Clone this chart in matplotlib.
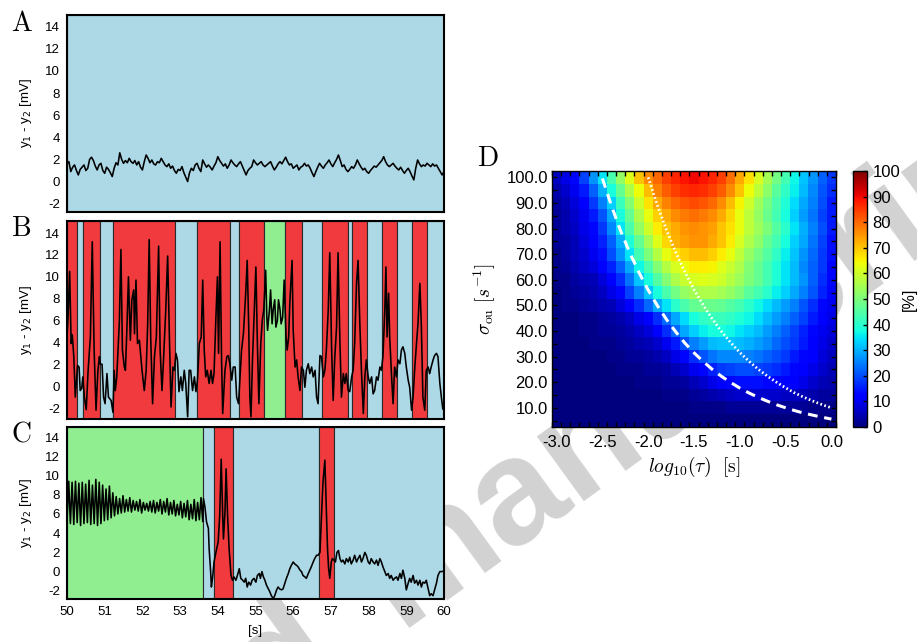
import matplotlib.pyplot as plt
import numpy as np

plt.rcParams['font.family'] = ['Liberation Sans', 'DejaVu Sans']
plt.rcParams['axes.unicode_minus'] = False

# ---- panel A: resting trace, sampled every 0.05 s from 50 s ----
a_v = [1.6, 1.8, 0.9, 1.3, 1.5, 1.0, 0.6, 1.1, 1.3, 1.5, 1.0, 1.2, 2.0, 2.2, 1.9, 1.4, 1.05, 1.5, 1.65, 1.0,
       0.75, 1.3, 1.1, 0.8, 0.45, 1.2, 1.7, 1.5, 2.6, 2.0, 1.65, 1.9, 1.7, 2.1, 1.8, 1.65, 1.9, 1.5, 1.8, 1.3,
       1.05, 1.8, 2.4, 2.1, 1.7, 1.95, 1.6, 1.5, 1.8, 1.7, 2.1, 1.8, 1.5, 1.35, 1.6, 1.2, 1.4, 1.0, 0.75, 1.1,
       1.0, 1.35, 0.8, 0.4, 0.0, 0.8, 1.2, 1.0, 1.5, 1.65, 1.2, 0.9, 1.95, 1.6, 1.3, 1.5, 1.3, 1.05, 1.4, 1.7,
       2.25, 1.9, 1.65, 1.4, 1.6, 1.2, 1.5, 1.95, 1.7, 1.5, 1.35, 1.6, 1.8, 1.4, 1.0, 0.6, 1.0, 1.2, 1.35, 1.95,
       1.7, 1.5, 1.65, 1.8, 1.5, 1.35, 1.5, 1.65, 1.8, 1.4, 1.05, 1.3, 1.6, 1.8, 1.6, 1.9, 2.2, 1.8, 1.5, 1.6,
       1.2, 1.35, 1.5, 1.05, 1.3, 1.4, 1.65, 1.4, 1.5, 1.2, 0.8, 0.45, 0.9, 1.3, 1.65, 1.4, 1.2, 1.5, 1.7, 1.95,
       1.6, 1.35, 1.7, 2.0, 2.4, 1.9, 1.35, 1.5, 1.1, 0.9, 1.1, 1.35, 1.2, 1.5, 1.95, 1.6, 1.3, 1.05, 1.2, 0.9,
       0.75, 1.0, 1.2, 1.4, 1.3, 1.5, 1.7, 1.9, 2.25, 1.8, 1.5, 1.35, 1.5, 1.65, 1.4, 1.2, 1.05, 1.3, 1.0, 0.75,
       1.0, 1.2, 0.9, 0.5, 0.15, 1.2, 1.95, 1.6, 1.35, 1.5, 1.4, 1.65, 1.5, 1.35, 1.6, 1.4, 1.5, 1.2, 0.9, 0.6,
       0.9]
a_states = [(50.0, 60.0, 'rest')]

# ---- panel B: (time [s], y1 - y2 [mV]) ----
b_trace = [
    (50.00, 4.5), (50.03, 6.5), (50.07, 10.5), (50.11, 3.9), (50.14, 4.7), (50.18, 2.7), (50.22, -1.0),
    (50.28, 1.9), (50.32, 1.75), (50.35, -0.4), (50.39, -0.2), (50.42, 0.85), (50.46, -1.0), (50.51, -2.15),
    (50.56, 1.45), (50.62, 4.5), (50.67, 13.2), (50.72, 3.3), (50.77, -2.2), (50.82, 1.45), (50.86, 2.7),
    (50.88, 2.05), (50.93, 2.0), (50.97, -1.0), (51.01, -1.6), (51.06, 1.15), (51.10, -1.0), (51.17, -1.3),
    (51.22, -2.4), (51.25, 1.45), (51.28, -0.4), (51.32, 0.85), (51.39, 6.0), (51.43, 12.5), (51.47, 3.3),
    (51.52, 1.75), (51.55, 1.45), (51.59, 5.4), (51.63, 10.0), (51.68, 4.2), (51.72, 7.9), (51.77, 8.8),
    (51.79, 4.8), (51.83, 9.7), (51.87, 3.9), (51.92, 4.2), (51.99, 1.45), (52.05, -0.4), (52.10, 1.45),
    (52.14, 5.7), (52.18, 13.4), (52.22, 4.5), (52.27, -1.6), (52.32, 2.7), (52.37, 4.5), (52.43, 12.8),
    (52.47, 3.3), (52.52, -0.4), (52.56, 2.4), (52.62, 7.0), (52.67, 11.9), (52.72, 3.9), (52.76, -1.9),
    (52.81, 1.75), (52.85, 1.45), (52.89, 3.0), (52.93, 2.4), (52.97, -0.5), (53.02, 0.85), (53.06, -0.4),
    (53.11, 1.45), (53.15, 0.25), (53.20, -2.8), (53.24, 1.45), (53.28, 1.45), (53.33, -0.4), (53.38, 0.85),
    (53.42, -0.5), (53.46, 0.55), (53.51, 3.9), (53.56, 4.5), (53.60, 9.7), (53.64, 3.3), (53.68, 0.85),
    (53.72, 1.45), (53.77, 0.25), (53.82, 1.45), (53.86, 0.25), (53.90, 1.15), (53.95, 6.3), (53.99, 10.0),
    (54.02, 3.0), (54.06, 13.2), (54.10, 2.4), (54.13, -2.5), (54.19, 1.45), (54.24, 2.7), (54.28, 2.8),
    (54.32, 2.05), (54.37, 0.55), (54.41, 1.75), (54.46, 1.75), (54.50, -1.0), (54.55, -1.6), (54.59, 0.85),
    (54.63, 3.3), (54.68, 4.8), (54.74, 8.5), (54.78, 11.5), (54.82, 5.4), (54.85, -1.0), (54.88, -2.8),
    (54.92, 2.4), (54.97, 7.0), (55.01, 10.9), (55.05, 3.9), (55.09, -1.6), (55.14, 3.9), (55.18, 6.0),
    (55.22, 7.0), (55.27, 10.6), (55.30, 6.3), (55.32, 5.1), (55.37, 7.0), (55.40, 8.8), (55.44, 5.7),
    (55.47, 7.0), (55.51, 7.9), (55.54, 5.4), (55.58, 6.0), (55.61, 7.9), (55.65, 7.0), (55.68, 5.7),
    (55.72, 6.3), (55.76, 9.7), (55.81, 4.5), (55.84, 3.3), (55.88, 4.5), (55.91, 7.6), (55.97, 11.5),
    (56.00, 5.1), (56.05, 1.75), (56.09, 2.4), (56.13, 0.85), (56.18, -0.4), (56.22, 1.75), (56.27, 1.45),
    (56.31, -0.1), (56.35, 1.45), (56.40, 2.05), (56.44, 1.15), (56.49, 1.75), (56.53, 0.85), (56.58, 1.45),
    (56.62, -1.0), (56.66, -1.6), (56.71, 2.8), (56.75, 2.7), (56.80, 0.85), (56.84, 1.45), (56.88, 3.3),
    (56.93, 7.0), (56.97, 12.2), (57.02, 3.3), (57.06, -1.3), (57.10, 2.4), (57.15, 5.4), (57.19, 12.2),
    (57.24, 3.9), (57.28, -1.0), (57.33, 1.15), (57.37, 0.25), (57.41, 1.15), (57.46, -0.4), (57.50, -0.5),
    (57.55, 0.85), (57.59, 1.45), (57.63, 3.9), (57.68, 9.4), (57.72, 11.5), (57.77, 5.4), (57.81, 1.45),
    (57.86, -2.5), (57.90, 0.85), (57.94, 2.4), (57.99, 0.85), (58.03, 0.25), (58.08, 0.85), (58.12, -0.7),
    (58.16, -0.4), (58.21, 0.85), (58.25, 0.55), (58.30, 1.75), (58.34, 1.45), (58.38, 2.7), (58.43, 7.0),
    (58.46, 10.9), (58.49, 4.5), (58.53, 8.5), (58.56, 4.5), (58.61, 0.85), (58.65, -1.6), (58.69, 1.75),
    (58.74, 0.85), (58.78, 2.4), (58.83, 2.05), (58.87, 3.3), (58.91, 3.6), (58.96, 3.0), (59.00, 1.75),
    (59.05, 0.55), (59.09, -0.1), (59.14, -2.2), (59.18, -1.0), (59.22, 1.45), (59.27, 3.9), (59.31, 5.7),
    (59.36, 9.4), (59.40, 5.4), (59.44, -1.0), (59.49, -2.2), (59.53, 1.45), (59.58, 1.75), (59.62, 1.15),
    (59.66, 1.75), (59.71, 2.4), (59.75, 2.8), (59.80, 3.0), (59.84, 2.7), (59.89, 0.25), (59.93, -1.0),
    (59.97, -2.1), (60.00, -1.9)]
b_states = [(50.00, 50.26, 'spike'), (50.26, 50.43, 'rest'), (50.43, 50.88, 'spike'), (50.88, 51.23, 'rest'),
            (51.23, 52.86, 'spike'), (52.86, 53.44, 'rest'), (53.44, 54.32, 'spike'), (54.32, 54.56, 'rest'),
            (54.56, 55.23, 'spike'), (55.23, 55.78, 'osc'), (55.78, 56.23, 'spike'), (56.23, 56.77, 'rest'),
            (56.77, 57.46, 'spike'), (57.46, 57.55, 'rest'), (57.55, 57.97, 'spike'), (57.97, 58.35, 'rest'),
            (58.35, 58.75, 'spike'), (58.75, 59.14, 'rest'), (59.14, 59.56, 'spike'), (59.56, 60.00, 'rest')]

# ---- panel C: oscillation 50.00-53.60 s (every 0.045 s), then (time, value) pairs ----
c_osc_v = [5.2, 9.4, 5.0, 9.3, 4.9, 9.4, 5.1, 9.2, 4.8, 9.3, 5.0, 9.1, 5.1, 9.5, 4.9, 9.0, 5.0, 9.6, 4.8, 9.3,
           5.0, 9.0, 5.3, 8.6, 5.4, 8.9, 5.6, 8.2, 5.8, 7.8, 6.0, 7.6, 6.1, 7.9, 6.2, 7.5, 6.3, 7.7, 6.2, 7.4,
           6.4, 7.3, 6.3, 7.5, 6.1, 7.2, 6.4, 7.1, 6.3, 7.3, 6.2, 7.4, 6.1, 7.2, 6.3, 7.5, 6.0, 7.3, 6.2, 7.6,
           5.9, 7.2, 6.0, 7.4, 5.8, 7.0, 5.9, 7.3, 5.6, 7.1, 5.7, 7.4, 5.4, 7.0, 5.5, 7.5, 5.3, 7.2, 5.4, 7.7,
           5.2]
c_trace = [
    (53.62, 7.6), (53.66, 6.7), (53.70, 5.2), (53.75, 4.5), (53.77, 2.4), (53.81, 0.0), (53.83, -1.6),
    (53.86, -0.7), (53.90, 1.0), (53.95, 2.0), (54.01, 3.1), (54.05, 5.8), (54.09, 11.7), (54.13, 5.8),
    (54.15, 3.4), (54.19, 6.2), (54.22, 10.7), (54.26, 5.8), (54.30, 2.4), (54.35, -0.4), (54.39, -0.9),
    (54.43, -0.55), (54.48, -0.9), (54.52, -0.4), (54.57, 0.3), (54.61, -0.7), (54.66, -0.9), (54.70, -1.1),
    (54.74, -0.7), (54.78, -1.6), (54.82, -1.1), (54.87, -1.4), (54.91, -0.9), (54.96, -0.7), (55.01, -1.1),
    (55.05, -0.4), (55.10, -0.2), (55.13, -0.7), (55.17, 0.0), (55.21, -0.55), (55.25, -0.9), (55.29, -1.4),
    (55.34, -1.8), (55.38, -2.1), (55.42, -2.5), (55.47, -2.8), (55.51, -2.5), (55.56, -1.9), (55.60, -1.6),
    (55.64, -1.8), (55.69, -1.9), (55.73, -1.8), (55.78, -1.2), (55.82, -0.7), (55.87, -0.2), (55.91, 0.3),
    (55.95, 0.65), (56.00, 1.0), (56.04, 0.8), (56.09, 0.65), (56.13, 0.5), (56.18, 0.15), (56.22, 0.0),
    (56.26, -0.4), (56.31, -0.55), (56.35, -0.7), (56.40, -0.2), (56.44, 0.15), (56.48, 0.5), (56.53, 1.0),
    (56.57, 1.35), (56.62, 1.7), (56.66, 1.7), (56.71, 2.0), (56.75, 5.8), (56.79, 9.3), (56.84, 11.6),
    (56.87, 7.6), (56.91, 2.4), (56.94, 0.3), (56.97, -0.7), (57.01, 1.0), (57.04, 1.35), (57.08, 1.2),
    (57.12, 1.0), (57.16, 2.0), (57.20, 2.2), (57.24, 1.35), (57.28, 1.0), (57.32, 1.2), (57.37, 0.8),
    (57.41, 1.35), (57.46, 1.0), (57.50, 1.5), (57.54, 0.8), (57.59, 1.2), (57.63, 1.7), (57.68, 1.0),
    (57.72, 1.35), (57.77, 1.7), (57.81, 1.0), (57.85, 1.35), (57.90, 2.0), (57.94, 1.7), (57.99, 1.0),
    (58.03, 0.8), (58.07, 1.35), (58.12, 1.0), (58.16, 0.8), (58.21, 1.2), (58.25, 0.65), (58.30, 1.35),
    (58.34, 1.0), (58.38, 0.5), (58.43, 0.0), (58.47, -0.4), (58.52, -0.2), (58.56, -0.7), (58.60, -0.4),
    (58.65, -0.9), (58.69, -0.7), (58.74, -0.55), (58.78, -0.9), (58.83, -0.2), (58.87, -0.7), (58.91, 0.15),
    (58.96, -0.7), (59.00, -1.9), (59.05, -1.2), (59.09, -0.7), (59.13, -1.1), (59.18, -0.4), (59.22, -1.2),
    (59.27, -0.9), (59.31, -1.4), (59.36, -0.9), (59.40, -1.6), (59.44, -1.1), (59.49, -1.2), (59.53, -0.9),
    (59.58, -1.8), (59.62, -2.5), (59.66, -2.3), (59.71, -2.5), (59.75, -1.9), (59.80, -1.2), (59.84, -0.4),
    (59.89, 0.0), (59.93, 0.0), (60.00, 0.05)]
c_states = [(50.00, 53.62, 'osc'), (53.62, 53.90, 'rest'), (53.90, 54.41, 'spike'),
            (54.41, 56.68, 'rest'), (56.68, 57.08, 'spike'), (57.08, 60.00, 'rest')]

# ---- panel D: percentage map, rows sigma = 100 ... 5, columns log10(tau) = -3.0 ... 0.0 ----
log_tau = [-3.0, -2.9, -2.8, -2.7, -2.6, -2.5, -2.4, -2.3, -2.2, -2.1, -2.0, -1.9, -1.8, -1.7, -1.6, -1.5,
           -1.4, -1.3, -1.2, -1.1, -1.0, -0.9, -0.8, -0.7, -0.6, -0.5, -0.4, -0.3, -0.2, -0.1, 0.0]
sigma_ou = [100, 95, 90, 85, 80, 75, 70, 65, 60, 55, 50, 45, 40, 35, 30, 25, 20, 15, 10, 5]
percent = [
    [6, 9, 13, 19, 27, 35, 44, 53, 62, 70, 76, 80, 84, 87, 89, 90, 89, 87, 84, 79, 73, 67, 61, 55, 49, 43, 37, 32, 27, 22, 18],
    [4, 7, 10, 15, 22, 30, 38, 47, 56, 64, 71, 77, 81, 84, 86, 87, 86, 84, 81, 76, 70, 64, 58, 52, 46, 41, 36, 31, 26, 21, 17],
    [3, 5, 8, 12, 18, 25, 33, 42, 51, 60, 67, 73, 77, 80, 82, 83, 82, 80, 76, 71, 65, 60, 54, 49, 44, 39, 34, 29, 25, 20, 15],
    [2, 4, 7, 10, 15, 21, 29, 38, 47, 56, 63, 69, 73, 76, 78, 79, 78, 76, 73, 68, 63, 58, 53, 48, 43, 38, 33, 28, 24, 19, 15],
    [2, 4, 6, 9, 13, 18, 26, 35, 44, 53, 60, 66, 70, 73, 75, 76, 75, 74, 70, 67, 63, 58, 54, 50, 45, 40, 35, 30, 25, 20, 15],
    [2, 3, 5, 8, 11, 16, 22, 30, 39, 47, 55, 62, 68, 72, 74, 75, 75, 73, 70, 66, 61, 56, 52, 47, 43, 38, 33, 29, 24, 19, 14],
    [1, 3, 5, 7, 10, 14, 20, 27, 35, 43, 50, 57, 63, 67, 69, 71, 71, 69, 66, 63, 58, 53, 49, 45, 41, 36, 32, 27, 23, 18, 14],
    [1, 2, 4, 6, 8, 11, 16, 22, 29, 37, 44, 51, 57, 61, 64, 66, 66, 65, 62, 59, 56, 51, 47, 43, 39, 35, 31, 26, 22, 18, 13],
    [1, 1, 3, 4, 5, 8, 12, 17, 24, 32, 38, 45, 51, 56, 59, 61, 62, 61, 60, 57, 54, 50, 47, 43, 39, 35, 31, 27, 22, 17, 13],
    [0, 1, 2, 3, 4, 6, 9, 13, 19, 25, 32, 38, 44, 49, 53, 55, 56, 56, 55, 53, 50, 46, 43, 40, 36, 33, 29, 25, 21, 16, 12],
    [0, 1, 1, 2, 3, 4, 5, 8, 12, 17, 23, 29, 35, 40, 44, 47, 48, 48, 47, 45, 43, 40, 37, 34, 31, 28, 25, 21, 17, 13, 10],
    [0, 0, 0, 1, 1, 2, 3, 4, 6, 9, 12, 17, 23, 29, 34, 38, 41, 42, 42, 41, 39, 37, 34, 31, 28, 25, 22, 19, 15, 12, 9],
    [0, 0, 0, 1, 1, 2, 2, 3, 4, 6, 8, 12, 17, 23, 29, 33, 36, 38, 38, 37, 35, 33, 31, 28, 25, 22, 19, 16, 13, 10, 8],
    [0, 0, 0, 0, 1, 1, 1, 2, 3, 4, 5, 7, 10, 15, 20, 25, 28, 31, 32, 32, 31, 30, 28, 26, 23, 20, 18, 15, 12, 9, 7],
    [0, 0, 0, 0, 0, 0, 1, 1, 2, 2, 3, 4, 6, 9, 13, 17, 21, 24, 26, 26, 26, 25, 24, 22, 20, 18, 15, 13, 11, 8, 6],
    [0, 0, 0, 0, 0, 0, 0, 1, 1, 1, 2, 2, 3, 5, 7, 10, 13, 16, 18, 19, 20, 20, 19, 18, 17, 15, 13, 11, 9, 7, 5],
    [0, 0, 0, 0, 0, 0, 0, 0, 0, 1, 1, 1, 2, 2, 3, 5, 7, 9, 11, 13, 14, 14, 14, 13, 13, 12, 11, 9, 7, 5, 4],
    [0, 0, 0, 0, 0, 0, 0, 0, 0, 0, 0, 0, 1, 1, 1, 2, 3, 4, 5, 6, 7, 7, 7, 7, 7, 6, 6, 5, 4, 3, 3],
    [0, 0, 0, 0, 0, 0, 0, 0, 0, 0, 0, 0, 0, 0, 0, 1, 1, 1, 1, 2, 2, 2, 2, 2, 2, 2, 2, 2, 1, 1, 1],
    [0, 0, 0, 0, 0, 0, 0, 0, 0, 0, 0, 0, 0, 0, 0, 0, 0, 0, 0, 0, 0, 0, 0, 0, 0, 0, 0, 0, 0, 0, 0]]

# white boundary curves
dash_logtau = [-2.5, -2.4, -2.3, -2.2, -2.1, -2.0, -1.9, -1.8, -1.7, -1.6, -1.5, -1.4, -1.3, -1.2, -1.1,
               -1.0, -0.9, -0.8, -0.7, -0.6, -0.5, -0.4, -0.3, -0.2, -0.1, 0.0]
dash_sigma = [99.6, 88.8, 79.0, 70.5, 62.8, 56.0, 49.9, 44.5, 39.7, 35.3, 31.5, 28.1, 25.0, 22.3, 19.9,
              17.7, 15.8, 14.1, 12.6, 11.2, 10.0, 8.9, 7.9, 7.1, 6.3, 5.6]
dot_logtau = [-2.0, -1.9, -1.8, -1.7, -1.6, -1.5, -1.4, -1.3, -1.2, -1.1, -1.0, -0.9, -0.8, -0.7, -0.6,
              -0.5, -0.4, -0.3, -0.2, -0.1, 0.0]
dot_sigma = [100.0, 89.1, 79.4, 70.8, 63.1, 56.2, 50.1, 44.7, 39.8, 35.5, 31.6, 28.2, 25.1, 22.4, 20.0,
             17.8, 15.8, 14.1, 12.6, 11.2, 10.0]

state_colors = {'rest': '#add8e6', 'spike': '#f03a3d', 'osc': '#90ee90'}

W, H = 917, 642


def px_box(left, top, right, bottom):
    return [left / W, 1 - bottom / H, (right - left) / W, (bottom - top) / H]


fig = plt.figure(figsize=(W / 100, H / 100), dpi=100)

# watermark, behind everything
wm = dict(fontsize=108, fontweight='bold', color='#d2d2d2', rotation=36, rotation_mode='anchor',
          va='baseline', zorder=-5, family='Liberation Sans')
fig.text(400 / W, 1 - 628 / H, 'manuscript', ha='left', **wm)
fig.text(345 / W, 1 - 668 / H, 'Accepted', ha='right', **wm)

ax_a = fig.add_axes(px_box(67, 15, 444, 212))
ax_b = fig.add_axes(px_box(67, 221, 444, 419))
ax_c = fig.add_axes(px_box(67, 427, 444, 599))

b_t = [p[0] for p in b_trace]
b_v = [p[1] for p in b_trace]
c_t = list(np.linspace(50.0, 53.6, len(c_osc_v))) + [p[0] for p in c_trace]
c_v = c_osc_v + [p[1] for p in c_trace]
a_t = np.linspace(50.0, 60.0, len(a_v))

panels = [(ax_a, a_t, a_v, a_states, (-2.75, 15.05)),
          (ax_b, b_t, b_v, b_states, (-3.0, 15.1)),
          (ax_c, c_t, c_v, c_states, (-2.85, 15.05))]

for ax, t, v, states, ylim in panels:
    for t0, t1, s in states:
        ax.axvspan(t0, t1, facecolor=state_colors[s], edgecolor='#2a2a2a', lw=0.8, zorder=0)
    ax.plot(t, v, color='k', lw=1.15, zorder=2)
    ax.set_xlim(50, 60)
    ax.set_ylim(*ylim)
    ax.set_yticks(range(-2, 15, 2))
    ax.tick_params(length=0, labelsize=9.5, pad=5)
    for sp in ax.spines.values():
        sp.set_linewidth(1.5)
    ax.set_ylabel('y$_1$ - y$_2$ [mV]', fontsize=9.5, labelpad=8, math_fontfamily='dejavusans')

ax_a.set_xticklabels([])
ax_b.set_xticklabels([])
ax_c.set_xticks(range(50, 61))
ax_c.set_xlabel('[s]', fontsize=9.5, labelpad=5)

# ---- panel D ----
ax_d = fig.add_axes(px_box(552, 171, 836, 427))
half_x = (log_tau[1] - log_tau[0]) / 2
half_y = (sigma_ou[0] - sigma_ou[1]) / 2
im = ax_d.imshow(percent, cmap='jet', vmin=0, vmax=100, aspect='auto', interpolation='nearest',
                 origin='upper',
                 extent=[log_tau[0] - half_x, log_tau[-1] + half_x, sigma_ou[-1] - half_y, sigma_ou[0] + half_y])
ax_d.plot(dash_logtau, dash_sigma, color='white', lw=2.2, dashes=(3.2, 2.2))
ax_d.plot(dot_logtau, dot_sigma, color='white', lw=2.0, dashes=(0.6, 0.9))
ax_d.set_xlim(log_tau[0] - half_x, log_tau[-1] + half_x)
ax_d.set_ylim(sigma_ou[-1] - half_y, sigma_ou[0] + half_y)

ax_d.set_xticks(np.arange(-3.0, 0.01, 0.5))
ax_d.set_xticklabels(['%.1f' % x for x in np.arange(-3.0, 0.01, 0.5)])
ax_d.set_xticks(np.arange(log_tau[0] - half_x, log_tau[-1] + half_x + 0.01, 0.1), minor=True)
ax_d.set_yticks(range(10, 101, 10))
ax_d.set_yticklabels(['%.1f' % y for y in range(10, 101, 10)])
ax_d.set_yticks(range(5, 100, 10), minor=True)
ax_d.tick_params(axis='x', which='major', length=0, pad=6, labelsize=12)
ax_d.tick_params(axis='x', which='minor', direction='in', length=3.5, width=1, top=True, bottom=True)
ax_d.tick_params(axis='y', which='both', direction='in', length=3.5, width=1, left=True, right=True,
                 labelsize=12, pad=3)
for sp in ax_d.spines.values():
    sp.set_linewidth(1.0)
ax_d.set_xlabel(r'$log_{10}(\tau)\ \ [\mathrm{s}]$', fontsize=14, labelpad=3, math_fontfamily='cm')
ax_d.set_ylabel(r'$\sigma_{\rm ou}\ [s^{-1}]$', fontsize=14, labelpad=6, math_fontfamily='cm')

cax = fig.add_axes(px_box(853, 171, 867, 427))
cb = fig.colorbar(im, cax=cax, ticks=range(0, 101, 10))
cb.outline.set_linewidth(1.0)
cb.ax.tick_params(labelsize=12, direction='in', length=3, width=1, pad=4)
cb.set_label('[%]', fontsize=11.5, labelpad=1)

# panel letters
for letter, x, y in [('A', 11, 31), ('B', 11, 236), ('C', 11, 441), ('D', 477, 166)]:
    fig.text(x / W, 1 - y / H, r'$\mathrm{%s}$' % letter, fontsize=20, math_fontfamily='cm',
             va='baseline', ha='left')

fig.savefig('out.png', dpi=100)
